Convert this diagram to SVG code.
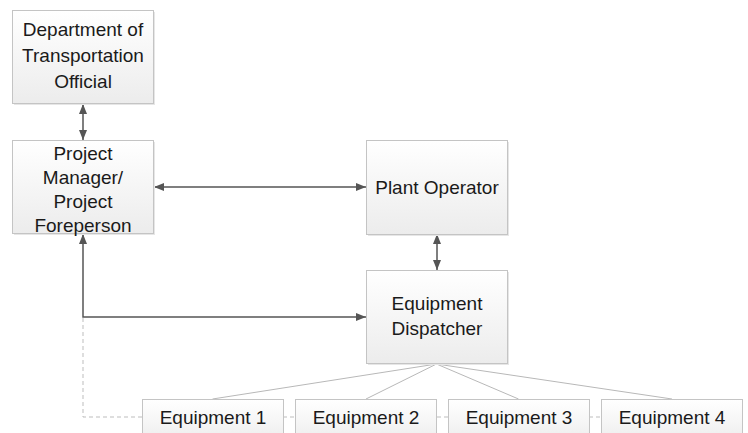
<svg xmlns="http://www.w3.org/2000/svg" width="748" height="433" viewBox="0 0 748 433">
<defs>
<linearGradient id="g" x1="0" y1="0" x2="0" y2="1">
<stop offset="0" stop-color="#ffffff"/>
<stop offset="1" stop-color="#ececec"/>
</linearGradient>
<marker id="a" viewBox="0 0 10 10" refX="10" refY="5" markerWidth="10" markerHeight="10" markerUnits="userSpaceOnUse" orient="auto-start-reverse">
<path d="M0,1 L10,5 L0,9 z" fill="#555"/>
</marker>
</defs>
<style>
.box{fill:url(#g);stroke:#c4c4c4;stroke-width:1}
.sh{fill:#e6e6e6}
text{font-family:"Liberation Sans",Arial,sans-serif;font-size:19px;fill:#1a1a1a;text-anchor:middle}
.c{fill:none;stroke:#555;stroke-width:1.5}
.d{fill:none;stroke:#bdbdbd;stroke-width:1;stroke-dasharray:4,3}
.t{fill:none;stroke:#b8b8b8;stroke-width:1}
</style>
<g id="connectors">
<line class="c" x1="83" y1="104" x2="83" y2="140" marker-start="url(#a)" marker-end="url(#a)"/>
<line class="c" x1="154" y1="187" x2="366" y2="187" marker-start="url(#a)" marker-end="url(#a)"/>
<line class="c" x1="437" y1="234" x2="437" y2="270" marker-start="url(#a)" marker-end="url(#a)"/>
<path class="c" d="M83,234 L83,317 L366,317" marker-start="url(#a)" marker-end="url(#a)"/>
<path class="d" d="M83,318 L83,417 L142,417"/>
<line class="d" x1="283" y1="417" x2="295" y2="417"/>
<line class="d" x1="437" y1="417" x2="448" y2="417"/>
<line class="d" x1="589" y1="417" x2="601" y2="417"/>
<line class="t" x1="436.5" y1="364" x2="212.5" y2="399"/>
<line class="t" x1="436.5" y1="364" x2="366" y2="399"/>
<line class="t" x1="436.5" y1="364" x2="518.5" y2="399"/>
<line class="t" x1="436.5" y1="364" x2="672" y2="399"/>
</g>
<g id="dot">
<rect class="sh" x="14" y="12" width="141" height="93"/>
<rect class="box" x="12.5" y="10.5" width="141" height="93"/>
<text x="83" y="36">Department of</text>
<text x="83" y="62">Transportation</text>
<text x="83" y="88">Official</text>
</g>
<g id="pm">
<rect class="sh" x="14" y="142" width="141" height="93"/>
<rect class="box" x="12.5" y="140.5" width="141" height="93"/>
<text x="83" y="160">Project</text>
<text x="83" y="184">Manager/</text>
<text x="83" y="208">Project</text>
<text x="83" y="232">Foreperson</text>
</g>
<g id="po">
<rect class="sh" x="368" y="142" width="141" height="94"/>
<rect class="box" x="366.5" y="140.5" width="141" height="94"/>
<text x="437" y="194">Plant Operator</text>
</g>
<g id="ed">
<rect class="sh" x="368" y="272" width="141" height="93"/>
<rect class="box" x="366.5" y="270.5" width="141" height="93"/>
<text x="437" y="310">Equipment</text>
<text x="437" y="335">Dispatcher</text>
</g>
<g id="e1">
<rect class="box" x="142.5" y="399.5" width="141" height="45"/>
<text x="213" y="424">Equipment 1</text>
</g>
<g id="e2">
<rect class="box" x="295.5" y="399.5" width="141" height="45"/>
<text x="366" y="424">Equipment 2</text>
</g>
<g id="e3">
<rect class="box" x="448.5" y="399.5" width="141" height="45"/>
<text x="519" y="424">Equipment 3</text>
</g>
<g id="e4">
<rect class="box" x="601.5" y="399.5" width="141" height="45"/>
<text x="672" y="424">Equipment 4</text>
</g>
</svg>
